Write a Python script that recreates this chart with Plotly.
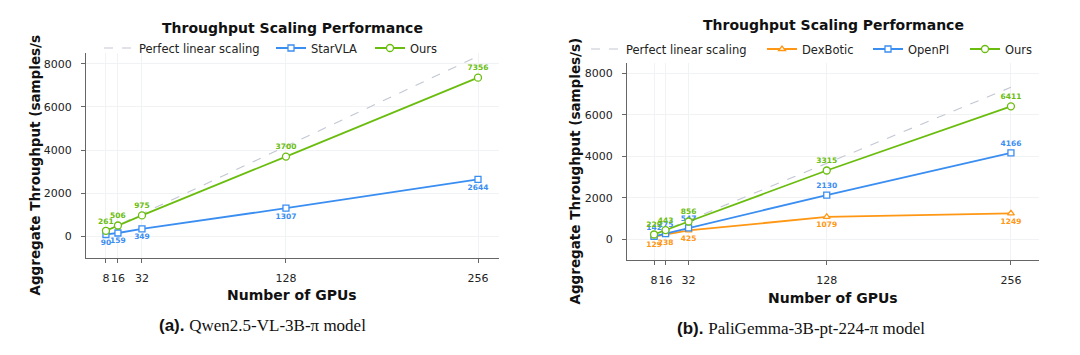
import plotly.graph_objects as go

# ---------------- data ----------------
gpus = [8, 16, 32, 128, 256]
gpu_ticks = ["8", "16", "32", "128", "256"]

# panel (a): Qwen2.5-VL-3B-pi
perfect_a = [261, 522, 1044, 4176, 8352]
starvla_a = [90, 159, 349, 1307, 2644]
ours_a = [261, 506, 975, 3700, 7356]

# panel (b): PaliGemma-3B-pt-224-pi
perfect_b = [229, 458, 916, 3664, 7328]
dexbotic_b = [129, 238, 425, 1079, 1249]
openpi_b = [142, 275, 547, 2130, 4166]
ours_b = [229, 443, 856, 3315, 6411]

y_ticks = [0, 2000, 4000, 6000, 8000]

# ---------------- style ----------------
FONT = "DejaVu Sans"
GREEN = "#6abd0e"
BLUE = "#3a8ef2"
ORANGE = "#ff9714"
DASH = "#c3c7d3"
W, H = 1080, 355


def px_x(p):
    return p / W


def px_y(p):
    return 1 - p / H


fig = go.Figure()


def add_series(x, y, name, color, symbol, size, xa, ya, legend, textpos):
    fig.add_trace(go.Scatter(
        x=x, y=y, name=name, mode="lines+markers+text",
        line=dict(color=color, width=1.8),
        marker=dict(symbol=symbol, size=size, color="white",
                    line=dict(color=color, width=1.3)),
        text=[str(v) for v in y], textposition=textpos,
        textfont=dict(family=FONT, size=7.5, color=color, weight="bold"),
        xaxis=xa, yaxis=ya, legend=legend, cliponaxis=False,
    ))


def add_perfect(x, y, xa, ya, legend):
    fig.add_trace(go.Scatter(
        x=x, y=y, name="Perfect linear scaling", mode="lines",
        line=dict(color=DASH, width=1.1, dash="dash"),
        xaxis=xa, yaxis=ya, legend=legend,
    ))


# panel (a)
add_perfect(gpus, perfect_a, "x", "y", "legend")
add_series(gpus, starvla_a, "StarVLA", BLUE, "square", 6, "x", "y", "legend2", "bottom center")
add_series(gpus, ours_a, "Ours", GREEN, "circle", 7, "x", "y", "legend3", "top center")

# panel (b)
add_perfect(gpus, perfect_b, "x2", "y2", "legend4")
add_series(gpus, dexbotic_b, "DexBotic", ORANGE, "triangle-up", 6, "x2", "y2", "legend5", "bottom center")
add_series(gpus, openpi_b, "OpenPI", BLUE, "square", 6, "x2", "y2", "legend6", "top center")
add_series(gpus, ours_b, "Ours", GREEN, "circle", 7, "x2", "y2", "legend7", "top center")

axis_common = dict(
    showline=True, linecolor="#666666", linewidth=1,
    ticks="outside", ticklen=4, tickcolor="#666666", tickwidth=1,
    showgrid=True, gridcolor="#f1f2f4", gridwidth=0.8,
    zeroline=False, tickfont=dict(family=FONT, size=11, color="#222222"),
    tickangle=0,
)

fig.update_layout(
    width=W, height=H, margin=dict(l=0, r=0, t=0, b=0),
    paper_bgcolor="white", plot_bgcolor="white",
    font=dict(family=FONT, color="#111111"),
    showlegend=True,
    xaxis=dict(domain=[px_x(86), px_x(499)], range=[-5.3, 270],
               tickvals=gpus, ticktext=gpu_ticks, anchor="y",
               ticklabelstandoff=6, **axis_common),
    yaxis=dict(domain=[px_y(258), px_y(53)], range=[-1000, 8500],
               tickvals=y_ticks, anchor="x", ticklabelstandoff=7, **axis_common),
    xaxis2=dict(domain=[px_x(627), px_x(1039)], range=[-10.8, 275.5],
                tickvals=gpus, ticktext=gpu_ticks, anchor="y2",
                ticklabelstandoff=6, **axis_common),
    yaxis2=dict(domain=[px_y(260), px_y(63)], range=[-1000, 8500],
                tickvals=y_ticks, anchor="x2", ticklabelstandoff=7, **axis_common),
)

# legends: one per entry so each sits where the reference places it
legend_items = [
    ("legend", 139, 48), ("legend2", 311, 48), ("legend3", 410, 48),
    ("legend4", 626, 49), ("legend5", 802, 49), ("legend6", 908, 49), ("legend7", 1005, 49),
]
for key, text_x, cy in legend_items:
    fig.update_layout({key: dict(
        x=px_x(text_x - 40), y=px_y(cy), xanchor="left", yanchor="middle",
        orientation="h", bgcolor="rgba(0,0,0,0)", borderwidth=0,
        font=dict(family=FONT, size=11.5, color="#222222"),
        itemwidth=30, visible=True,
    )})

ann = []
# titles
ann.append(dict(text="<b>Throughput Scaling Performance</b>", x=px_x(292), y=px_y(28),
                font=dict(family=FONT, size=14, color="#111111")))
ann.append(dict(text="<b>Throughput Scaling Performance</b>", x=px_x(833), y=px_y(25),
                font=dict(family=FONT, size=14, color="#111111")))
# x labels
ann.append(dict(text="<b>Number of GPUs</b>", x=px_x(292), y=px_y(295),
                font=dict(family=FONT, size=14, color="#111111")))
ann.append(dict(text="<b>Number of GPUs</b>", x=px_x(833), y=px_y(298),
                font=dict(family=FONT, size=14, color="#111111")))
# y labels
ann.append(dict(text="<b>Aggregate Throughput (samples/s</b>", x=px_x(34), y=px_y(298),
                yanchor="bottom", textangle=-90,
                font=dict(family=FONT, size=13.5, color="#111111")))
ann.append(dict(text="<b>Aggregate Throughput (samples/s)</b>", x=px_x(574), y=px_y(307),
                yanchor="bottom", textangle=-90,
                font=dict(family=FONT, size=13.5, color="#111111")))
# captions
ann.append(dict(text="<b>(a).</b> <span style='font-family:Liberation Serif'>Qwen2.5-VL-3B-π model</span>",
                x=px_x(262), y=px_y(325),
                font=dict(family="Liberation Sans", size=17, color="#111111")))
ann.append(dict(text="<b>(b).</b> <span style='font-family:Liberation Serif'>PaliGemma-3B-pt-224-π model</span>",
                x=px_x(801), y=px_y(328),
                font=dict(family="Liberation Sans", size=17, color="#111111")))

for a in ann:
    a.setdefault("xanchor", "center")
    a.setdefault("yanchor", "middle")
    a.update(xref="paper", yref="paper", showarrow=False)
fig.update_layout(annotations=ann)

fig.write_html(
    "out.html",
    config={"displayModeBar": False},
    post_script="document.body.style.margin='0';document.body.style.overflow='hidden';",
)
